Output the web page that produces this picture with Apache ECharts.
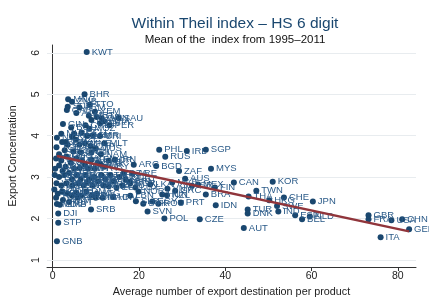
<!DOCTYPE html>
<html>
<head>
<meta charset="utf-8">
<style>
  html, body { margin: 0; padding: 0; background: #fff; }
  #chart { width: 429px; height: 303px; }
</style>
<script src="https://cdn.jsdelivr.net/npm/echarts@6/dist/echarts.min.js"></script>
</head>
<body>
<div id="chart"></div>
<script>
// country codes, avg. number of destinations (x), export concentration (y)
const names = [
  'KWT','BHR','MNG','ZMB','SUR','TTO','ARM','GAB','YEM','AGO','MRT','QAT','OMN','SAU','NGA','GHA','CIV','GIN','PER','CHL',
  'BOL','MOZ','ECU','MLI','BFA','CMR','CRI','JAM','KGZ','NIC','AZE','TJK','BEN','MNE','MLT','ISL','LAO','CYP','TCD','MUS',
  'BLZ','SEN','FJI','BRB','GUY','NAM','COG','PNG','TZA','KEN','IRN','JOR','ETH','CAF','SYR','SYC','UGA','PAK','ARG','BGD',
  'LBY','BWA','URY','MWI','NPL','HTI','PRY','KHM','SLE','MDG','DZA','TGO','RWA','GEO','KAZ','GTM','UKR','BDI','HND','COL',
  'ZWE','MDA','DOM','BLR','SLV','TUN','VEN','MMR','LSO','CPV','BGR','LBR','UZB','SWZ','PAN','MKD','LTU','LVA','EST','SDN',
  'COM','DMA','ERI','GNQ','LCA','ATG','VCT','GRD','KNA','LBN','HRV','TON','ALB','BIH','MAC','WSM','SLB','VUT','MDV','GMB',
  'SRB','DJI','STP','GNB','CUB','BRN','LUX','NOR','ARE','EGY','SVK','PHL','IRL','SGP','RUS','ZAF','MYS','AUS','MAR','LKA',
  'VNM','ISR','MEX','GRC','NZL','HUN','BRA','ROU','PRT','SVN','POL','CZE','IDN','FIN','CAN','KOR','TWN','THA','HKG','SWE',
  'IND','CHE','TUR','DNK','AUT','JPN','ESP','NLD','BEL','GBR','FRA','USA','CHN','GER','ITA'
];
const destinations = [
  7.9,7.4,3.6,4.5,3.5,8.6,6.2,3.3,9.8,5.5,8.4,10.2,11.4,15.3,9.0,12.0,11.0,2.4,13.2,7.6,
  4.3,8.5,6.7,2.0,5.0,9.3,11.0,8.0,4.5,1.0,5.4,3.0,2.2,7.5,12.0,6.2,3.5,8.8,0.9,10.0,
  2.8,4.8,9.0,6.5,1.5,11.2,3.2,0.8,5.5,9.0,14.4,13.0,6.8,2.0,10.4,4.2,7.5,11.2,18.8,24.0,
  1.5,3.0,12.0,6.3,5.0,8.2,9.8,0.6,2.3,3.8,16.5,0.5,2.7,5.6,7.6,11.3,13.4,1.5,9.6,15.5,
  4.5,6.5,8.5,12.3,10.5,14.2,0.9,3.2,6.0,8.0,18.0,2.0,4.6,7.2,9.2,11.8,16.2,13.0,14.8,0.4,
  2.2,7.8,1.2,3.4,5.5,10.2,4.5,6.6,9.0,18.0,14.0,0.8,5.8,10.0,11.6,2.4,19.3,3.8,1.0,1.7,
  8.9,1.3,1.3,1.0,16.9,17.8,19.2,19.9,18.5,23.1,21.0,24.7,31.1,35.5,26.1,29.3,36.7,30.7,27.7,22.6,
  26.6,32.3,33.7,28.4,26.5,25.4,35.5,24.5,29.7,22.0,25.9,34.1,37.8,37.6,42.0,51.0,47.2,45.4,50.2,52.0,
  52.3,53.6,45.2,45.2,44.3,60.3,56.2,59.6,57.8,73.2,73.2,78.5,81.0,82.6,76.0
];
const concentration = [
  6.02,5.00,4.88,4.82,4.70,4.75,4.68,4.62,4.58,4.55,4.48,4.45,4.42,4.43,4.38,4.35,4.30,4.28,4.25,4.25,
  4.20,4.17,4.08,4.05,4.05,4.01,3.99,4.00,3.98,3.95,3.90,3.85,3.85,3.82,3.82,3.78,3.78,3.75,3.72,3.70,
  3.65,3.62,3.60,3.60,3.55,3.55,3.50,3.45,3.45,3.42,3.42,3.40,3.40,3.40,3.35,3.35,3.30,3.30,3.30,3.27,
  3.28,3.25,3.25,3.22,3.20,3.20,3.20,3.20,3.15,3.10,3.10,3.05,3.05,3.05,3.05,3.05,3.05,3.00,3.00,3.00,
  2.95,2.95,2.95,2.95,2.90,2.90,2.85,2.85,2.85,2.88,2.85,2.80,2.80,2.80,2.80,2.80,2.80,2.78,2.75,2.70,
  2.65,2.65,2.60,2.60,2.62,2.60,2.55,2.55,2.55,2.55,2.52,2.50,2.50,2.50,2.50,2.45,2.42,2.40,2.35,2.33,
  2.22,2.12,1.90,1.45,2.94,2.89,2.75,2.65,3.08,2.41,2.36,3.66,3.63,3.66,3.49,3.15,3.20,2.96,2.87,2.82,
  2.72,2.79,2.82,2.67,2.56,2.58,2.58,2.36,2.39,2.17,2.00,1.98,2.32,2.75,2.87,2.89,2.67,2.53,2.44,2.30,
  2.17,2.51,2.22,2.12,1.77,2.41,2.08,2.05,1.98,2.08,1.98,1.96,1.98,1.74,1.55
];
// fitted line end points
const fitX = [1.0, 82.6];
const fitY = [3.51, 1.69];
const xTicks = [0, 20, 40, 60, 80];
const yTicks = [1, 2, 3, 4, 5, 6];

const points = names.map((n, i) => [destinations[i], concentration[i], n]);
const fit = fitX.map((x, i) => [x, fitY[i]]);

const chart = echarts.init(document.getElementById('chart'));
chart.setOption({
  animation: false,
  backgroundColor: '#fff',
  textStyle: { fontFamily: 'Liberation Sans, Arial, sans-serif' },
  title: [
    { text: 'Within Theil index – HS 6 digit', left: 230, top: 11, textAlign: 'center',
      textStyle: { color: '#1a476f', fontSize: 15.5, fontWeight: 'normal' } },
    { text: 'Mean of the  index from 1995–2011', left: 230, top: 29, textAlign: 'center',
      textStyle: { color: '#111', fontSize: 11.5, fontWeight: 'normal' } }
  ],
  grid: { left: 44, right: 13, top: 45, bottom: 34 },
  xAxis: {
    type: 'value', min: -1.3, max: 84.2,
    name: 'Average number of export destination per product',
    nameLocation: 'middle', nameGap: 20,
    nameTextStyle: { color: '#222', fontSize: 10.8 },
    axisLine: { show: true, lineStyle: { color: '#333' } },
    axisTick: { show: true, length: 4, customValues: xTicks, lineStyle: { color: '#333' } },
    axisLabel: { customValues: xTicks, color: '#222', fontSize: 10.5, margin: 4 },
    splitLine: { show: false }
  },
  yAxis: {
    type: 'value', min: 0.83, max: 6.19,
    name: 'Export Concentration',
    nameLocation: 'middle', nameGap: 28,
    nameTextStyle: { color: '#222', fontSize: 10.8 },
    axisLine: { show: true, lineStyle: { color: '#333' } },
    axisTick: { show: true, length: 4, customValues: yTicks, lineStyle: { color: '#333' } },
    axisLabel: { customValues: yTicks, color: '#222', fontSize: 10.5, rotate: 90, margin: 5 },
    splitLine: { show: false }
  },
  series: [
    {
      // horizontal grid lines behind the marks
      type: 'line',
      data: [],
      z: 1,
      markLine: {
        silent: true, symbol: 'none', animation: false, z: 1,
        label: { show: false },
        lineStyle: { color: '#e8ecef', type: 'solid', width: 1 },
        data: yTicks.map(v => ({ yAxis: v }))
      }
    },
    {
      type: 'scatter',
      data: points,
      symbolSize: 6,
      itemStyle: { color: '#1a476f', opacity: 1 },
      label: {
        show: true, position: 'right', distance: 2,
        formatter: p => p.data[2],
        color: '#2a5a88', fontSize: 9.5
      },
      z: 3
    },
    {
      type: 'line',
      data: fit,
      symbol: 'none',
      lineStyle: { color: '#90353b', width: 2.5 },
      z: 4
    }
  ]
});
</script>
</body>
</html>
